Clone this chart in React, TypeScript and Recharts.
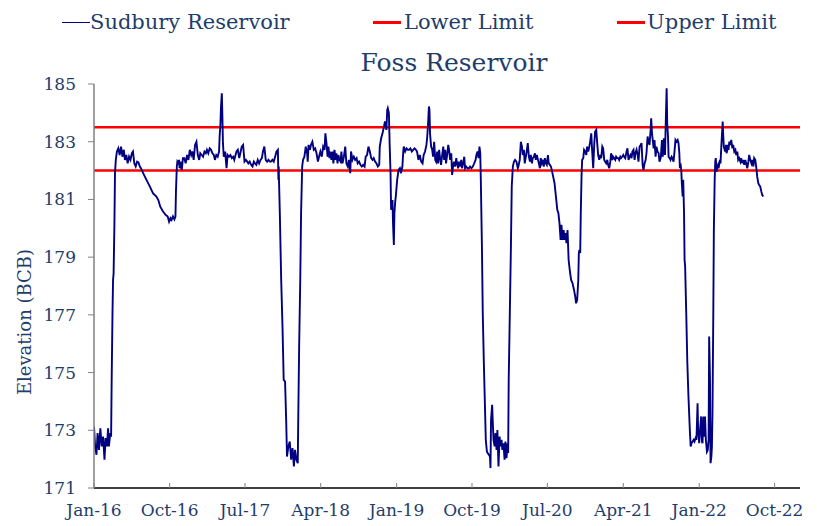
import React from "react";
import { LineChart, Line, XAxis, YAxis, ReferenceLine } from "recharts";

// Days since 2016-01-01 and reservoir elevation (BCB)
const readings: [number, number][] = [
  [0,173.13],[4,172.44],[9,172.15],[13,172.90],[18,172.32],[23,173.07],[28,172.44],[33,172.78],[38,171.98],[42,172.73],
  [47,172.44],[51,173.07],[54,172.44],[59,172.90],[62,172.78],[64,174.75],[67,177.06],[69,178.21],[71,178.44],[74,180.17],
  [76,181.91],[79,182.37],[83,182.66],[88,182.77],[93,182.54],[98,182.83],[103,182.48],[108,182.72],[112,182.37],[117,182.54],
  [122,182.25],[127,182.48],[132,182.37],[137,182.60],[141,182.66],[146,182.25],[151,182.14],[156,182.31],[161,182.28],[166,182.14],
  [170,182.08],[178,181.91],[190,181.68],[202,181.45],[214,181.21],[226,181.10],[233,180.98],[240,180.75],[250,180.58],[260,180.46],
  [267,180.41],[272,180.23],[277,180.35],[281,180.29],[286,180.41],[291,180.31],[295,180.41],[297,181.33],[300,182.14],[302,182.31],
  [306,182.25],[308,182.37],[310,182.08],[313,182.31],[318,182.02],[322,182.43],[327,182.43],[332,182.25],[337,182.54],[342,182.37],
  [347,182.72],[352,182.54],[356,182.66],[361,182.37],[366,182.89],[371,183.00],[376,182.54],[381,182.37],[385,182.60],[390,182.54],
  [395,182.48],[400,182.66],[405,182.60],[409,182.72],[414,182.60],[419,182.77],[424,182.72],[429,182.60],[434,182.54],[438,182.37],
  [443,182.54],[448,182.48],[453,182.66],[455,183.18],[458,183.64],[460,184.22],[463,184.68],[465,183.87],[467,182.95],[470,182.48],
  [475,182.66],[480,182.08],[484,182.54],[489,182.48],[494,182.54],[499,182.43],[504,182.48],[508,182.37],
  [516,182.66],[521,182.72],[526,182.43],[530,182.60],[535,182.83],[540,182.89],[545,182.31],[550,182.37],[555,182.31],[559,182.25],
  [564,182.31],[569,182.20],[574,182.14],[579,182.31],[583,182.25],[588,182.20],[593,182.37],[598,182.25],[603,182.37],[608,182.43],
  [612,182.66],[617,182.83],[622,182.37],[627,182.31],[632,182.37],[637,182.31],[641,182.31],[646,182.37],[651,182.31],[656,182.48],
  [661,182.66],[666,182.72],[668,181.68],[669,182.14],[670,181.68],[673,180.52],[678,178.21],[683,176.48],[687,174.75],[692,174.69],
  [696,173.36],[699,172.09],[704,172.44],[709,172.61],[714,171.98],[719,172.38],[724,171.75],[728,172.32],[733,171.98],[738,171.86],
  [740,173.59],[743,175.90],[747,178.21],[750,180.52],[754,182.14],[757,182.37],[762,182.48],[767,182.83],[772,182.60],[774,182.31],
  [777,182.89],[782,182.72],[786,182.89],[791,183.00],[796,182.72],[801,182.77],[806,182.60],[811,182.31],[815,182.48],[820,182.66],
  [825,182.48],[830,182.83],[835,182.72],[838,183.29],[842,182.95],[846,182.48],[849,182.83],[853,182.43],[856,182.66],[860,182.37],
  [864,182.66],[867,182.25],[871,182.72],[875,182.37],[878,182.60],[882,182.25],[885,182.54],[889,182.37],[893,182.31],[896,182.66],
  [900,182.25],[905,182.48],[910,182.83],[914,182.25],[919,182.14],[923,182.37],[928,181.91],[931,182.66],[936,182.37],[941,182.48],
  [946,182.37],[951,182.43],[955,182.25],[960,182.31],[965,182.20],[970,182.14],[975,182.20],[980,182.14],[984,182.48],[989,182.54],
  [994,182.83],[999,182.66],[1004,182.43],[1009,182.37],[1013,182.43],[1018,182.31],[1023,182.25],
  [1028,182.14],[1033,182.20],[1035,182.83],[1040,183.12],[1045,183.29],[1050,183.52],[1054,183.70],[1059,183.41],[1062,184.10],[1064,184.16],
  [1068,183.99],[1071,182.83],[1074,181.91],[1076,180.64],[1081,180.98],[1083,180.17],[1086,179.42],[1088,180.52],[1091,180.93],[1093,181.10],
  [1098,181.68],[1103,182.02],[1108,182.08],[1112,181.91],[1117,182.14],[1120,182.66],[1122,182.83],[1127,182.66],[1132,182.77],[1137,182.72],
  [1141,182.72],[1146,182.77],[1151,182.66],[1156,182.72],[1161,182.77],[1166,182.72],[1170,182.66],[1175,182.37],[1180,182.54],[1185,182.31],
  [1190,182.25],[1194,182.54],[1199,182.66],[1204,182.89],[1207,183.18],[1210,183.64],[1213,184.22],[1215,184.10],[1217,183.29],[1221,182.83],
  [1225,182.72],[1228,182.48],[1232,183.00],[1236,182.37],[1239,182.31],[1243,182.66],[1246,182.25],[1250,182.72],[1254,182.37],[1257,182.20],
  [1261,182.54],[1265,182.83],[1268,182.37],[1272,182.72],[1275,182.25],[1279,182.54],[1283,182.89],[1286,182.72],[1290,182.37],[1294,182.60],
  [1297,181.85],[1301,182.20],[1304,182.31],[1308,182.14],[1312,182.43],[1315,182.25],[1319,182.08],[1322,182.31],[1326,182.14],[1330,182.37],
  [1333,182.08],[1337,182.25],[1341,182.48],[1344,182.08],[1348,182.14],[1353,182.08],[1358,182.08],[1362,182.14],[1367,182.08],[1372,182.14],
  [1377,182.25],[1382,182.37],[1385,182.54],[1389,182.66],[1393,182.43],[1396,182.83],[1399,182.60],[1401,181.68],[1405,179.37],[1408,177.06],
  [1412,175.32],[1416,173.82],[1419,172.67],[1423,172.26],[1426,172.21],[1430,172.15],[1434,172.09],[1436,171.69],[1438,173.36],[1442,173.88],
  [1444,173.36],[1447,172.67],[1451,172.44],[1454,172.90],[1458,172.32],[1461,173.01],[1465,171.75],[1469,172.78],[1472,172.44],[1476,172.67],
  [1479,172.32],[1483,172.55],[1487,171.98],[1490,172.61],[1494,172.03],[1498,172.55],[1500,172.21],[1502,174.75],[1506,177.06],[1510,179.37],
  [1513,181.45],[1517,182.14],[1521,182.31],[1525,182.37],[1530,182.31],[1535,182.08],[1537,182.14],
  [1542,182.37],[1546,183.00],[1550,182.83],[1553,182.54],[1557,182.72],[1560,182.25],[1564,182.48],[1568,182.72],[1571,182.95],[1575,182.48],
  [1579,182.31],[1582,182.54],[1586,182.25],[1589,182.43],[1593,182.48],[1597,182.60],[1600,182.37],[1604,182.54],[1608,182.37],[1611,182.25],
  [1615,182.08],[1618,182.43],[1622,182.25],[1626,182.37],[1629,182.14],[1633,182.43],[1637,182.25],[1640,182.20],[1644,182.54],[1647,182.25],
  [1651,182.20],[1655,182.14],[1658,182.02],[1663,181.79],[1668,181.56],[1673,181.10],[1678,180.64],[1682,180.52],[1686,180.17],[1690,179.60],
  [1693,180.12],[1697,179.60],[1701,179.94],[1704,179.60],[1708,179.83],[1711,179.48],[1715,179.94],[1719,178.90],[1723,178.56],[1728,178.21],
  [1733,178.10],[1738,177.89],[1743,177.63],[1746,177.40],[1750,177.52],[1754,178.21],[1756,179.14],[1758,179.25],[1761,179.14],[1763,180.52],
  [1766,181.91],[1768,182.37],[1772,182.43],[1775,182.72],[1779,182.66],[1783,182.54],[1786,182.83],[1790,182.66],[1794,182.83],[1797,183.00],
  [1801,183.29],[1804,182.72],[1808,182.08],[1812,182.95],[1815,183.35],[1819,183.41],[1823,182.89],[1826,182.54],[1830,182.37],[1833,182.54],
  [1837,182.43],[1841,182.83],[1844,182.77],[1848,182.37],[1851,182.31],[1855,182.25],[1859,182.37],[1862,182.20],[1866,182.08],[1870,182.31],
  [1873,182.60],[1877,182.37],[1880,182.48],[1884,182.43],[1888,182.37],[1891,182.48],[1895,182.43],[1899,182.43],[1902,182.37],[1906,182.48],
  [1909,182.43],[1913,182.48],[1917,182.54],[1920,182.48],[1924,182.43],[1929,182.66],[1932,182.77],[1936,182.37],[1940,182.48],[1943,182.54],
  [1947,182.43],[1950,182.66],[1954,182.72],[1958,182.37],[1961,182.60],[1965,182.72],[1969,182.54],[1972,182.31],[1976,182.83],[1980,182.89],
  [1983,182.95],[1987,182.20],[1990,182.02],[1994,182.25],[1998,182.37],[2001,182.60],[2005,183.18],[2008,183.00],[2012,182.89],[2016,183.41],
  [2018,183.81],[2021,183.29],[2023,183.12],[2027,182.77],[2030,183.06],[2034,182.48],[2037,182.83],[2041,182.66],[2045,182.60],[2048,182.31],
  [2052,182.43],
  [2053,182.48],[2057,183.06],[2060,182.48],[2064,183.12],[2068,182.54],[2071,183.75],[2074,184.85],[2076,183.64],[2079,183.18],[2081,182.48],
  [2085,182.43],[2088,182.37],[2092,182.48],[2095,182.43],[2099,182.31],[2103,182.72],[2106,183.06],[2110,183.00],[2114,183.06],[2117,182.95],
  [2120,182.60],[2122,182.08],[2124,182.25],[2127,182.02],[2129,181.56],[2132,181.10],[2134,181.68],[2137,180.52],[2139,178.90],[2141,178.67],
  [2145,177.06],[2149,175.32],[2153,174.17],[2158,173.01],[2161,172.44],[2164,172.55],[2168,172.61],[2172,172.67],[2175,172.61],[2179,172.73],
  [2182,172.67],[2186,173.94],[2188,173.01],[2192,172.55],[2196,173.13],[2199,173.48],[2202,172.61],[2204,172.55],[2207,173.48],[2209,172.78],
  [2213,173.48],[2216,172.67],[2220,172.26],[2223,172.32],[2226,172.67],[2228,176.25],[2231,174.75],[2233,171.86],[2236,172.09],[2238,172.44],
  [2240,173.59],[2243,177.06],[2245,179.94],[2248,181.68],[2250,182.31],[2252,182.43],[2255,181.96],[2257,182.14],[2260,182.20],[2262,182.08],
  [2265,182.25],[2267,182.37],[2269,182.25],[2272,182.83],[2274,183.18],[2277,183.70],[2279,183.23],[2281,182.83],[2284,182.72],[2286,182.66],
  [2289,182.89],[2291,182.60],[2294,182.72],[2296,182.89],[2298,182.72],[2301,183.00],[2304,182.89],[2308,183.06],[2312,182.77],[2315,182.89],
  [2319,182.66],[2323,182.72],[2326,182.54],[2330,182.66],[2333,182.37],[2337,182.43],[2341,182.31],[2344,182.43],[2348,182.25],[2351,182.37],
  [2355,182.20],[2359,182.37],[2362,182.25],[2366,182.08],[2370,182.31],[2373,182.54],[2377,182.37],[2381,182.25],[2384,182.37],[2388,182.14],
  [2391,182.43],[2395,182.37],[2399,182.08],[2402,181.79],[2406,181.56],[2409,181.50],[2413,181.45],[2417,181.27],[2420,181.16],[2424,181.10],
];

const lowerLimit = 182;
const upperLimit = 183.5;

const xTickDays = [0, 274, 547, 821, 1096, 1369, 1642, 1917, 2192, 2465];
const xTickLabels = ["Jan-16", "Oct-16", "Jul-17", "Apr-18", "Jan-19", "Oct-19", "Jul-20", "Apr-21", "Jan-22", "Oct-22"];
const xDomainEnd = 2557;
const yTicks = [171, 173, 175, 177, 179, 181, 183, 185];

const seriesNames = ["Sudbury Reservoir", "Lower Limit", "Upper Limit"];
const title = "Foss Reservoir";
const yLabel = "Elevation (BCB)";

const data = readings.map(([day, elevation]) => ({ day, elevation }));

const FONT = "'DejaVu Serif', serif";
const TEXT = "#1F3D6B";

const XTick = (props: any) => {
  const { x, y, payload } = props;
  const idx = xTickDays.indexOf(payload.value);
  return (
    <g>
      <line x1={x} x2={x} y1={y} y2={y - 5} stroke="#808080" strokeWidth={1} />
      <text x={x} y={y + 22} textAnchor="middle" dominantBaseline="central" fill={TEXT} fontSize={17} fontFamily={FONT}>
        {idx >= 0 ? xTickLabels[idx] : ""}
      </text>
    </g>
  );
};

export default function App() {
  const legendItems = [
    { name: seriesNames[0], color: "#000080", thick: 1, lineLeft: 54, textLeft: 82 },
    { name: seriesNames[1], color: "#FF0000", thick: 3, lineLeft: 365, textLeft: 396 },
    { name: seriesNames[2], color: "#FF0000", thick: 3, lineLeft: 609, textLeft: 639 },
  ];
  return (
    <div style={{ position: "relative", width: 809, height: 518, fontFamily: FONT, color: TEXT }}>
      <LineChart width={809} height={518} data={data} margin={{ top: 76, right: 17, bottom: 8, left: 30 }}>
        <XAxis
          dataKey="day"
          type="number"
          domain={[0, xDomainEnd]}
          ticks={xTickDays}
          interval={0}
          allowDataOverflow
          height={30}
          tickSize={0}
          tickMargin={0}
          tickLine={false}
          axisLine={{ stroke: "#000000", strokeWidth: 1.5 }}
          tick={<XTick />}
        />
        <YAxis
          type="number"
          domain={[171, 185]}
          ticks={yTicks}
          interval={0}
          allowDataOverflow
          width={56}
          tickSize={6}
          tickMargin={12}
          axisLine={{ stroke: "#808080", strokeWidth: 1.5 }}
          tickLine={{ stroke: "#808080" }}
          tick={{ fill: TEXT, fontSize: 17, fontFamily: FONT }}
        />
        <ReferenceLine y={lowerLimit} stroke="#FF0000" strokeWidth={2.5} />
        <ReferenceLine y={upperLimit} stroke="#FF0000" strokeWidth={2.5} />
        <Line
          type="linear"
          dataKey="elevation"
          stroke="#000080"
          strokeWidth={1.9}
          dot={false}
          activeDot={false}
          isAnimationActive={false}
        />
      </LineChart>
      {legendItems.map((it) => (
        <React.Fragment key={it.name}>
          <div style={{ position: "absolute", left: it.lineLeft, top: 14 - it.thick / 2, width: 28, height: it.thick, background: it.color }} />
          <div style={{ position: "absolute", left: it.textLeft, top: 2, height: 24, lineHeight: "24px", fontSize: 21, whiteSpace: "nowrap" }}>
            {it.name}
          </div>
        </React.Fragment>
      ))}
      <div style={{ position: "absolute", left: 296, top: 41, width: 300, height: 28, lineHeight: "28px", fontSize: 25, textAlign: "center", whiteSpace: "nowrap" }}>
        {title}
      </div>
      <div
        style={{
          position: "absolute",
          left: 17 - 100,
          top: 314 - 12,
          width: 200,
          height: 24,
          lineHeight: "24px",
          fontSize: 18,
          textAlign: "center",
          transform: "rotate(-90deg)",
          whiteSpace: "nowrap",
        }}
      >
        {yLabel}
      </div>
    </div>
  );
}
